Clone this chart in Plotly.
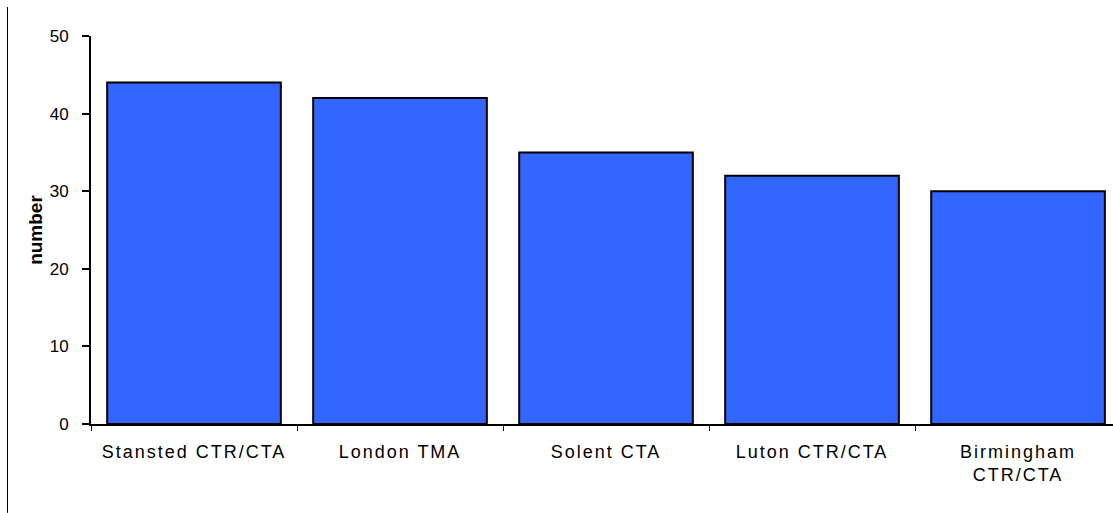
import plotly.graph_objects as go

categories = ["Stansted CTR/CTA", "London TMA", "Solent CTA", "Luton CTR/CTA", "Birmingham<br>CTR/CTA"]
values = [44, 42, 35, 32, 30]
y_ticks = [0, 10, 20, 30, 40, 50]

FONT = "Liberation Sans, Arial, sans-serif"

fig = go.Figure()
fig.add_trace(go.Bar(
    x=categories, y=values,
    marker=dict(color="#3366FF", line=dict(color="black", width=2)),
))

fig.update_layout(
    width=1113, height=513,
    margin=dict(l=91, r=0, t=36, b=89),
    plot_bgcolor="white", paper_bgcolor="white",
    bargap=0.157,
    showlegend=False,
    font=dict(family=FONT, color="black"),
    xaxis=dict(
        type="category",
        range=[-0.5, 4.461],
        showline=True, linecolor="black", linewidth=2,
        ticks="outside", tickson="boundaries", ticklen=5, tickwidth=1, tickcolor="black",
        tickfont=dict(family=FONT, size=18, color="black"),
        ticklabelstandoff=10,
        showgrid=False, zeroline=False,
    ),
    yaxis=dict(
        range=[0, 50],
        tickvals=y_ticks,
        showline=True, linecolor="black", linewidth=2,
        ticks="outside", ticklen=7, tickwidth=1.5, tickcolor="black",
        tickfont=dict(family=FONT, size=17, color="black"),
        ticklabelstandoff=10,
        showgrid=False, zeroline=False,
        title=dict(text="<b>number</b>", font=dict(family=FONT, size=19, color="black"), standoff=2),
    ),
    shapes=[dict(
        type="line", xref="paper", yref="paper",
        x0=-0.0817, x1=-0.0817, y0=-0.229, y1=1.0747,
        line=dict(color="black", width=1),
    )],
)

post_script = (
    "document.body.style.margin='0';"
    "document.querySelectorAll('.xtick text').forEach(function(t){t.style.letterSpacing='2px';});"
)
fig.write_html("out.html", post_script=post_script, config={"displayModeBar": False})
